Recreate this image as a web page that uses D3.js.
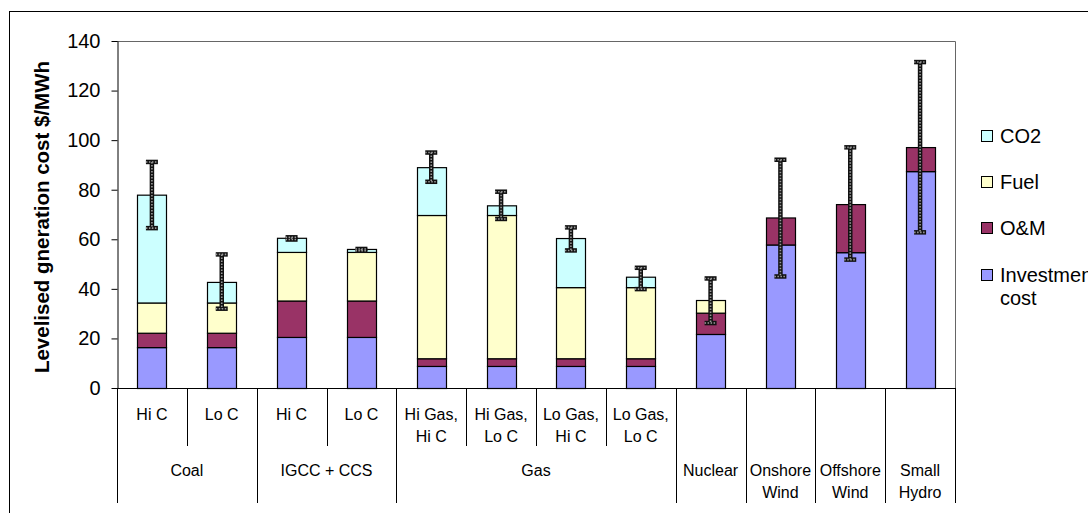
<!DOCTYPE html>
<html>
<head>
<meta charset="utf-8">
<script src="https://cdn.jsdelivr.net/npm/d3@7"></script>
<style>
  html, body { margin: 0; padding: 0; background: #fff; overflow: hidden; }
  svg { display: block; font-family: "Liberation Sans", Arial, sans-serif; }
</style>
</head>
<body>
<svg id="chart" width="1088" height="513"></svg>
<script>
// ---- data ----
const subLabels = ["Hi C", "Lo C", "Hi C", "Lo C", "Hi Gas,\nHi C", "Hi Gas,\nLo C", "Lo Gas,\nHi C", "Lo Gas,\nLo C", "", "", "", ""];
const groupLabels = ["Coal", "Coal", "IGCC + CCS", "IGCC + CCS", "Gas", "Gas", "Gas", "Gas", "Nuclear", "Onshore\nWind", "Offshore\nWind", "Small\nHydro"];
const investment = [16.5, 16.5, 20.6, 20.6, 8.9, 8.9, 8.9, 8.9, 21.8, 57.9, 54.8, 87.5];
const om         = [5.8, 5.8, 14.7, 14.7, 3.1, 3.1, 3.1, 3.1, 8.6, 10.9, 19.4, 9.7];
const fuel       = [12.2, 12.2, 19.6, 19.6, 57.8, 57.8, 28.7, 28.7, 5.1, 0, 0, 0];
const co2        = [43.5, 8.3, 5.7, 1.2, 19.3, 3.9, 19.8, 4.2, 0, 0, 0, 0];
const errLow     = [64.5, 32.0, 59.9, 55.4, 83.2, 68.2, 55.5, 39.9, 26.2, 45.0, 51.8, 62.8];
const errHigh    = [91.2, 53.9, 60.8, 56.1, 95.0, 79.2, 64.8, 48.5, 44.2, 92.1, 97.1, 131.5];
const seriesNames = ["Investment cost", "O&M", "Fuel", "CO2"];
const seriesColors = ["#9999FF", "#993366", "#FFFFCC", "#CCFFFF"];
const yTicks = [0, 20, 40, 60, 80, 100, 120, 140];
const yTitle = "Levelised gneration cost $/MWh";

// ---- layout ----
const svg = d3.select("#chart");
const L = 117, R = 955, T = 41, B = 388;
const idx = d3.range(subLabels.length);

const table = idx.map(i => ({ i, "Investment cost": investment[i], "O&M": om[i], "Fuel": fuel[i], "CO2": co2[i] }));
const stacked = d3.stack().keys(seriesNames)(table);

const x = d3.scaleBand().domain(idx).range([L, R]).paddingInner(0.585).paddingOuter(0.2925);
const step = x.step();
const edge = i => L + i * step;
const y = d3.scaleLinear().domain([0, 140]).range([B, T]);
const color = d3.scaleOrdinal().domain(seriesNames).range(seriesColors);

// outer frame
svg.append("rect").attr("x", 9.5).attr("y", 11.5).attr("width", 1200).attr("height", 600)
  .attr("fill", "none").attr("stroke", "#000").attr("stroke-width", 1);

// plot border
svg.append("path")
  .attr("d", `M${L},${T + 0.5}H${R + 0.5}V${B}`)
  .attr("fill", "none").attr("stroke", "#666").attr("stroke-width", 1);

// bars
const layers = svg.append("g").selectAll("g").data(stacked).join("g")
  .attr("fill", d => color(d.key));
layers.selectAll("rect").data(d => d.filter(s => s[1] - s[0] > 0)).join("rect")
  .attr("x", d => Math.round(x(d.data.i)) + 0.5)
  .attr("width", Math.round(x.bandwidth()))
  .attr("y", d => y(d[1]) + 0.5)
  .attr("height", d => y(d[0]) - y(d[1]))
  .attr("stroke", "#000").attr("stroke-width", 1.2);

// error bars
const eg = svg.append("g");
idx.forEach(i => {
  const cx = x(i) + x.bandwidth() / 2;
  const y1 = y(errHigh[i]), y0 = y(errLow[i]);
  const g = eg.append("g");
  const segs = [
    [cx, y1, cx, y0],
    [cx - 6, y1, cx + 6, y1],
    [cx - 6, y0, cx + 6, y0]
  ];
  segs.forEach(s => {
    g.append("line").attr("x1", s[0]).attr("y1", s[1]).attr("x2", s[2]).attr("y2", s[3])
      .attr("stroke", "#111").attr("stroke-width", 4.5);
  });
  segs.forEach(s => {
    g.append("line").attr("x1", s[0]).attr("y1", s[1]).attr("x2", s[2]).attr("y2", s[3])
      .attr("stroke", "#9a9a9a").attr("stroke-width", 1.6).attr("stroke-dasharray", "1.5,1.5");
  });
});

// y axis
const yAxis = d3.axisLeft(y).tickValues(yTicks).tickSize(6).tickPadding(11).tickSizeOuter(0);
const ya = svg.append("g").attr("transform", `translate(${L + 0.5},0)`).call(yAxis);
ya.select(".domain").attr("stroke", "#000");
ya.selectAll(".tick line").attr("stroke", "#000");
ya.selectAll("text").attr("font-size", 20).attr("fill", "#000")
  .attr("font-family", "'Liberation Sans', Arial, sans-serif");

// y title
svg.append("text")
  .attr("transform", "translate(49,217) rotate(-90)")
  .attr("text-anchor", "middle")
  .attr("font-size", 20.5).attr("font-weight", "bold").attr("fill", "#000")
  .text(yTitle);

// x axis baseline
svg.append("line").attr("x1", L).attr("x2", R + 0.5).attr("y1", B + 0.5).attr("y2", B + 0.5)
  .attr("stroke", "#000");

// separators
const sepG = svg.append("g").attr("stroke", "#000").attr("stroke-width", 1);
for (let k = 0; k <= idx.length; k++) {
  const isGroupEdge = k === 0 || k === idx.length || groupLabels[k] !== groupLabels[k - 1] || subLabels[k - 1] === "";
  const bottom = isGroupEdge ? 503 : 446;
  sepG.append("line").attr("x1", Math.round(edge(k)) + 0.5).attr("x2", Math.round(edge(k)) + 0.5)
    .attr("y1", B).attr("y2", bottom);
}

// level-1 labels
const lab1 = svg.append("g").attr("font-size", 16).attr("fill", "#000").attr("text-anchor", "middle");
idx.forEach(i => {
  if (!subLabels[i]) return;
  const t = lab1.append("text").attr("x", x(i) + x.bandwidth() / 2).attr("y", 420);
  subLabels[i].split("\n").forEach((ln, j) => {
    t.append("tspan").attr("x", x(i) + x.bandwidth() / 2).attr("dy", j === 0 ? 0 : 22).text(ln);
  });
});

// level-2 labels
const groups = [];
idx.forEach(i => {
  const last = groups[groups.length - 1];
  if (last && last.name === groupLabels[i] && subLabels[i] !== "") last.end = i;
  else groups.push({ name: groupLabels[i], start: i, end: i });
});
const lab2 = svg.append("g").attr("font-size", 16).attr("fill", "#000").attr("text-anchor", "middle");
groups.forEach(g => {
  const cx = (edge(g.start) + edge(g.end + 1)) / 2;
  const t = lab2.append("text").attr("x", cx).attr("y", 476);
  g.name.split("\n").forEach((ln, j) => {
    t.append("tspan").attr("x", cx).attr("dy", j === 0 ? 0 : 22).text(ln);
  });
});

// legend
const legendOrder = ["CO2", "Fuel", "O&M", "Investment cost"];
const legendY = [136, 182, 228, 275];
const lg = svg.append("g");
legendOrder.forEach((name, k) => {
  const cy = legendY[k];
  lg.append("rect").attr("x", 981.5).attr("y", cy - 5.5).attr("width", 11).attr("height", 11)
    .attr("fill", color(name)).attr("stroke", "#000").attr("stroke-width", 1);
  const t = lg.append("text").attr("x", 1000).attr("y", cy + 7).attr("font-size", 20).attr("fill", "#000");
  if (name === "Investment cost") {
    t.append("tspan").attr("x", 1000).text("Investment");
    t.append("tspan").attr("x", 1000).attr("dy", 23).text("cost");
  } else {
    t.text(name);
  }
});
</script>
</body>
</html>
